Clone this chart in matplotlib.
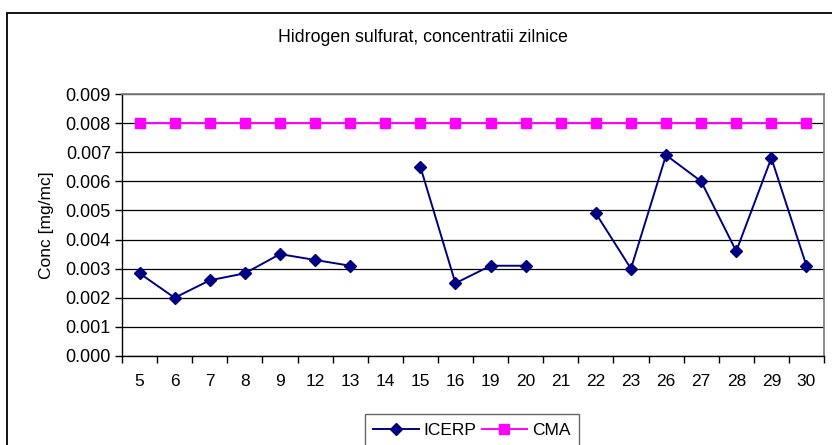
import numpy as np
import matplotlib
matplotlib.use("Agg")
import matplotlib.pyplot as plt
import matplotlib.patches as patches
from matplotlib.ticker import FormatStrFormatter

plt.rcParams['font.family'] = ['Liberation Sans', 'DejaVu Sans']

# Data
days = ['5', '6', '7', '8', '9', '12', '13', '14', '15', '16',
        '19', '20', '21', '22', '23', '26', '27', '28', '29', '30']
icerp = [0.00284, 0.0020, 0.0026, 0.00284, 0.0035, 0.0033, 0.0031, np.nan, 0.0065, 0.0025,
         0.0031, 0.0031, np.nan, 0.0049, 0.0030, 0.0069, 0.0060, 0.0036, 0.0068, 0.0031]
cma = [0.008] * len(days)

W, H = 832, 445
fig = plt.figure(figsize=(W / 100, H / 100), dpi=100, facecolor='white')
ax = fig.add_axes([122 / W, 1 - 356 / H, (824 - 122) / W, (356 - 94) / H])

x = np.arange(len(days))
ax.plot(x, icerp, color='#000080', lw=1.4, marker='D', ms=6.5, label='ICERP')
ax.plot(x, cma, color='#FF00FF', lw=1.4, marker='s', ms=6.5, label='CMA')

# axes / grid
ax.set_xlim(-0.5, len(days) - 0.5)
ax.set_ylim(0, 0.009)
ax.set_yticks(np.arange(0, 0.0091, 0.001))
ax.yaxis.set_major_formatter(FormatStrFormatter('%.3f'))
ax.set_xticks(x)
ax.set_xticklabels(days)
ax.set_xticks(np.arange(-0.5, len(days), 1), minor=True)
ax.tick_params(axis='x', which='major', length=0, pad=13, labelsize=12.5)
ax.tick_params(axis='x', which='minor', length=5, width=1, color='black', direction='out')
ax.tick_params(axis='y', length=5, width=1, direction='out', labelsize=13, pad=3)
ax.yaxis.grid(True, color='black', lw=0.9)
ax.set_axisbelow(True)
for s in ['top', 'right']:
    ax.spines[s].set_color('#808080')
    ax.spines[s].set_linewidth(1.3)
for s in ['left', 'bottom']:
    ax.spines[s].set_color('black')
    ax.spines[s].set_linewidth(1.0)

ax.set_ylabel('Conc [mg/mc]', fontsize=12.5, labelpad=8)
fig.text(423 / W, 1 - 37 / H, 'Hidrogen sulfurat, concentratii zilnice',
         ha='center', va='center', fontsize=12.8)

leg = fig.legend(loc='center', bbox_to_anchor=(472 / W, 1 - 430 / H), ncol=2,
                 fontsize=12.5, frameon=True, fancybox=False, handlelength=2.6,
                 columnspacing=0.3, handletextpad=0.3, borderpad=0.5, borderaxespad=0)
leg.get_frame().set_edgecolor('#404040')
leg.get_frame().set_linewidth(1.0)

# outer chart border
border = patches.Rectangle((7 / W, -0.1), 1.0, 1 - 12.7 / H + 0.1, transform=fig.transFigure,
                           fill=False, edgecolor='black', lw=1.3)
fig.patches.append(border)

fig.savefig('out.png', dpi=100)
